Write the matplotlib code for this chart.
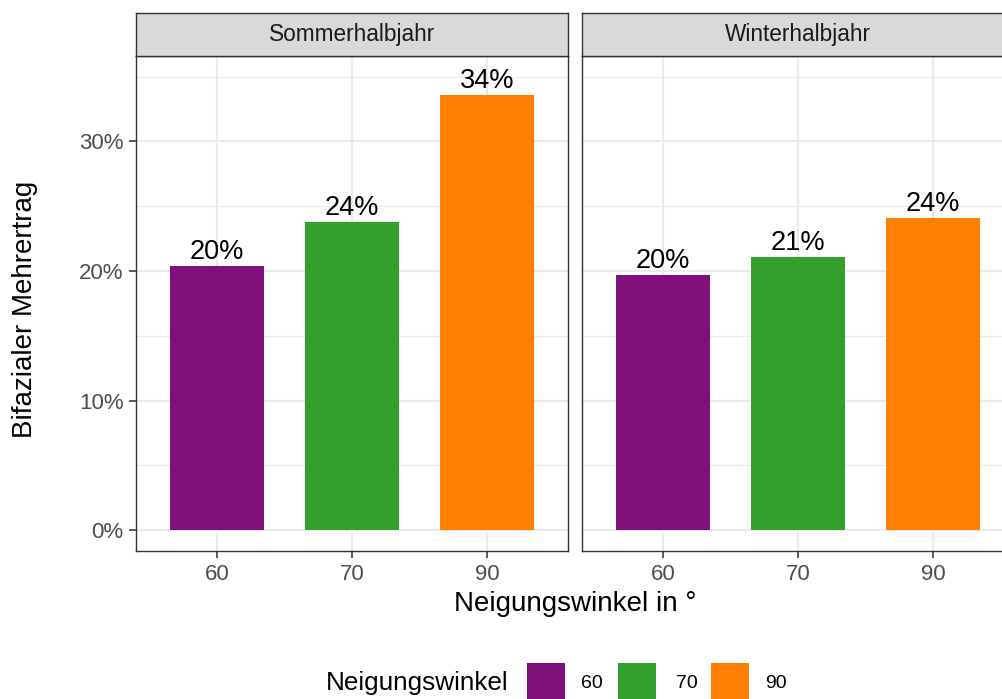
import matplotlib
matplotlib.use("Agg")
import matplotlib.pyplot as plt
import matplotlib.font_manager as fm
from matplotlib.patches import Rectangle
from matplotlib.ticker import FixedLocator

# Keep the regular-width Liberation Sans (skip the Narrow cut)
fm.fontManager.ttflist = [f for f in fm.fontManager.ttflist if "narrow" not in f.fname.lower()]
plt.rcParams['font.family'] = ['Liberation Sans', 'DejaVu Sans']

# Data
angles = ["60", "70", "90"]
seasons = ["Sommerhalbjahr", "Winterhalbjahr"]
gain_summer = [0.204, 0.238, 0.336]
gain_winter = [0.197, 0.211, 0.241]
colors = ["#80117A", "#33A02C", "#FF7F00"]
y_ticks = [0.0, 0.1, 0.2, 0.3]
y_minor = [0.05, 0.15, 0.25, 0.35]
y_tick_labels = ["0%", "10%", "20%", "30%"]

W, H = 1003, 699
fig = plt.figure(figsize=(W / 100, H / 100), dpi=100)
fig.patch.set_facecolor("white")

def fx(px):
    return px / W

def fy(py):
    return 1 - py / H

panel_top, panel_bot = 56, 551
strip_top = 13
panel_w = 432
lefts = [136, 582]

grid_col = "#EBEBEB"
border_col = "#333333"
tick_col = "#4D4D4D"

for i, (season, vals) in enumerate(zip(seasons, [gain_summer, gain_winter])):
    left = lefts[i]
    ax = fig.add_axes([fx(left), fy(panel_bot), fx(panel_w), (panel_bot - panel_top) / H])
    xs = list(range(len(angles)))
    ax.bar(xs, vals, width=0.7, color=colors, zorder=3)
    for x, v in zip(xs, vals):
        ax.annotate(f"{round(v * 100)}%", (x, v), xytext=(0, 0.5), textcoords="offset points",
                    ha="center", va="bottom", fontsize=19.5, color="black", zorder=4)
    ax.set_xlim(-0.6, 2.6)
    ax.set_ylim(-0.0162, 0.366)
    ax.set_xticks(xs)
    ax.set_xticklabels(angles)
    ax.yaxis.set_major_locator(FixedLocator(y_ticks))
    ax.yaxis.set_minor_locator(FixedLocator(y_minor))
    ax.grid(True, which="major", color=grid_col, linewidth=1.6, zorder=0)
    ax.grid(True, which="minor", axis="y", color=grid_col, linewidth=0.8, zorder=0)
    ax.set_axisbelow(True)
    ax.tick_params(axis="both", which="major", length=5, width=1.3, color=tick_col,
                   labelsize=16, labelcolor=tick_col, pad=4)
    ax.tick_params(axis="both", which="minor", length=0)
    if i == 0:
        ax.set_yticklabels(y_tick_labels)
    else:
        ax.tick_params(axis="y", which="major", left=False, labelleft=False)
    for sp in ax.spines.values():
        sp.set_color(border_col)
        sp.set_linewidth(1.0)
    ax.set_facecolor("white")

    # facet strip
    sax = fig.add_axes([fx(left), fy(panel_top), fx(panel_w), (panel_top - strip_top) / H])
    sax.set_xticks([])
    sax.set_yticks([])
    sax.set_facecolor("#D9D9D9")
    for sp in sax.spines.values():
        sp.set_color(border_col)
        sp.set_linewidth(1.0)
    sax.text(0.5, 0.5, season, ha="center", va="center", fontsize=16.3, color="#1A1A1A",
             transform=sax.transAxes)

# Axis titles
fig.text(fx((136 + 1014) / 2), fy(604), "Neigungswinkel in °", ha="center", va="center",
         fontsize=20, color="black")
fig.text(fx(25), fy((panel_top + panel_bot) / 2 + 6), "Bifazialer Mehrertrag", ha="center",
         va="center", rotation=90, fontsize=20, color="black")

# Legend
fig.text(fx(326), fy(683), "Neigungswinkel", ha="left", va="center", fontsize=18.8, color="black")
key_lefts = [527, 618, 711]
label_lefts = [581, 676, 765]
for kl, ll, c, lab in zip(key_lefts, label_lefts, colors, angles):
    fig.patches.append(Rectangle((fx(kl), fy(700)), fx(38), (700 - 663) / H,
                                 transform=fig.transFigure, facecolor=c, edgecolor="none"))
    fig.text(fx(ll), fy(683), lab, ha="left", va="center", fontsize=14, color="black")

fig.savefig("out.png", dpi=100, facecolor="white")
